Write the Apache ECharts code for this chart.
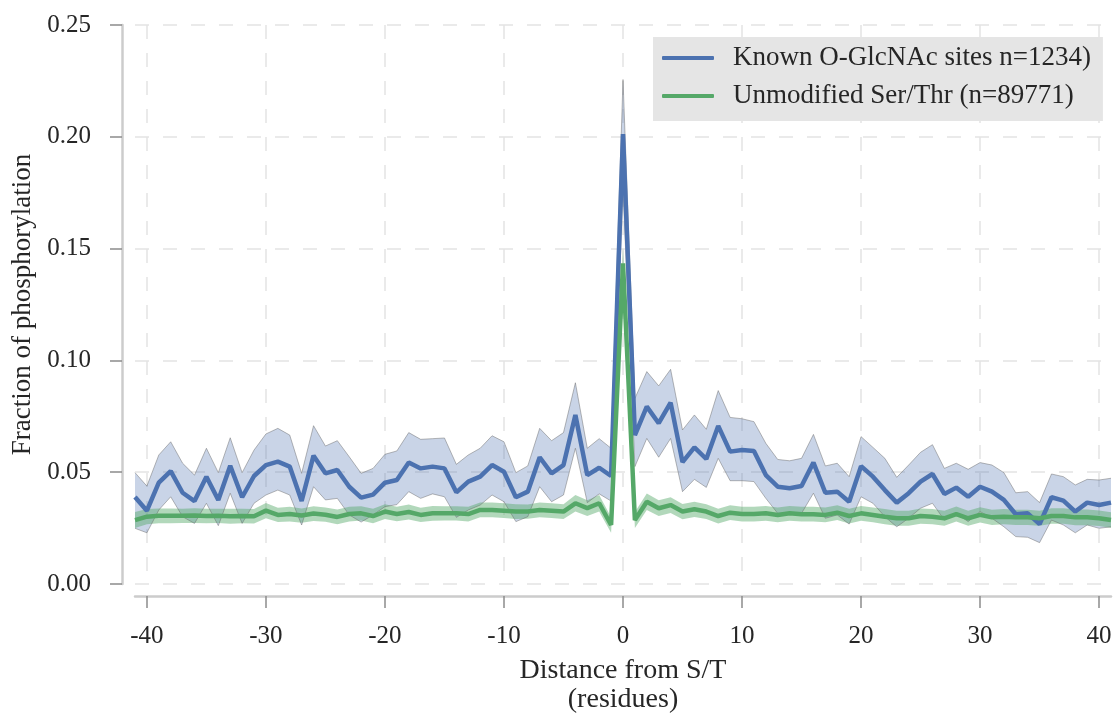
<!DOCTYPE html>
<html>
<head>
<meta charset="utf-8">
<script src="https://cdn.jsdelivr.net/npm/echarts@6/dist/echarts.min.js"></script>
<style>
html,body{margin:0;padding:0;background:#fff;}
#chart{width:1116px;height:713px;}
</style>
</head>
<body>
<div id="chart"></div>
<script>
// Distance from S/T (residues)
const positions = [-41,-40,-39,-38,-37,-36,-35,-34,-33,-32,-31,-30,-29,-28,-27,-26,-25,-24,-23,-22,-21,-20,-19,-18,-17,-16,-15,-14,-13,-12,-11,-10,-9,-8,-7,-6,-5,-4,-3,-2,-1,0,1,2,3,4,5,6,7,8,9,10,11,12,13,14,15,16,17,18,19,20,21,22,23,24,25,26,27,28,29,30,31,32,33,34,35,36,37,38,39,40,41];
const xTickLabels = [-40,-30,-20,-10,0,10,20,30,40];
const yTickLabels = ['0.00','0.05','0.10','0.15','0.20','0.25'];

const seriesNames = ['Known O-GlcNAc sites n=1234)', 'Unmodified Ser/Thr (n=89771)'];

// Known O-GlcNAc sites: mean and confidence band
const glcnacMean = [0.0389,0.0328,0.0453,0.0505,0.0408,0.0371,0.0480,0.0376,0.0529,0.0388,0.0483,0.0532,0.0547,0.0525,0.0371,0.0574,0.0495,0.0510,0.0435,0.0386,0.0400,0.0453,0.0465,0.0543,0.0517,0.0525,0.0517,0.0410,0.0458,0.0480,0.0532,0.0502,0.0388,0.0413,0.0567,0.0495,0.0532,0.0756,0.0487,0.0520,0.0483,0.2012,0.0666,0.0793,0.0719,0.0811,0.0545,0.0611,0.0559,0.0707,0.0592,0.0599,0.0595,0.0487,0.0435,0.0428,0.0438,0.0543,0.0408,0.0413,0.0368,0.0527,0.0480,0.0420,0.0364,0.0406,0.0458,0.0492,0.0403,0.0431,0.0390,0.0435,0.0413,0.0376,0.0312,0.0316,0.0268,0.0388,0.0373,0.0324,0.0364,0.0353,0.0364];
const glcnacUpper = [0.0498,0.0438,0.0577,0.0636,0.0540,0.0487,0.0607,0.0498,0.0654,0.0498,0.0599,0.0671,0.0696,0.0666,0.0495,0.0708,0.0617,0.0641,0.0569,0.0495,0.0517,0.0580,0.0595,0.0677,0.0647,0.0650,0.0653,0.0535,0.0577,0.0607,0.0663,0.0636,0.0498,0.0528,0.0696,0.0641,0.0677,0.0900,0.0607,0.0650,0.0607,0.2256,0.0830,0.0950,0.0886,0.0960,0.0689,0.0756,0.0692,0.0865,0.0745,0.0739,0.0726,0.0629,0.0557,0.0551,0.0562,0.0669,0.0528,0.0540,0.0480,0.0659,0.0611,0.0562,0.0477,0.0532,0.0589,0.0623,0.0517,0.0540,0.0513,0.0543,0.0532,0.0498,0.0408,0.0413,0.0364,0.0492,0.0480,0.0443,0.0468,0.0465,0.0473];
const glcnacLower = [0.0249,0.0229,0.0331,0.0390,0.0301,0.0271,0.0361,0.0261,0.0406,0.0271,0.0361,0.0398,0.0420,0.0398,0.0264,0.0435,0.0376,0.0383,0.0309,0.0277,0.0309,0.0346,0.0355,0.0413,0.0383,0.0403,0.0390,0.0298,0.0331,0.0353,0.0398,0.0368,0.0279,0.0301,0.0435,0.0368,0.0398,0.0607,0.0364,0.0403,0.0371,0.1765,0.0525,0.0651,0.0567,0.0651,0.0413,0.0468,0.0432,0.0562,0.0462,0.0462,0.0458,0.0383,0.0316,0.0316,0.0316,0.0406,0.0294,0.0309,0.0268,0.0390,0.0361,0.0301,0.0256,0.0294,0.0339,0.0361,0.0286,0.0316,0.0279,0.0324,0.0294,0.0256,0.0212,0.0209,0.0185,0.0286,0.0264,0.0229,0.0264,0.0249,0.0256];

// Unmodified Ser/Thr: mean and confidence band
const unmodMean = [0.0286,0.0301,0.0305,0.0305,0.0305,0.0306,0.0304,0.0305,0.0303,0.0304,0.0303,0.0328,0.0309,0.0313,0.0306,0.0315,0.0310,0.0300,0.0313,0.0316,0.0304,0.0324,0.0313,0.0322,0.0309,0.0316,0.0316,0.0316,0.0313,0.0331,0.0331,0.0328,0.0324,0.0324,0.0331,0.0328,0.0324,0.0361,0.0339,0.0361,0.0264,0.1434,0.0286,0.0368,0.0339,0.0353,0.0324,0.0334,0.0324,0.0304,0.0319,0.0313,0.0313,0.0316,0.0309,0.0316,0.0312,0.0312,0.0309,0.0319,0.0304,0.0316,0.0309,0.0301,0.0294,0.0294,0.0304,0.0301,0.0294,0.0313,0.0294,0.0309,0.0298,0.0301,0.0298,0.0298,0.0294,0.0304,0.0304,0.0298,0.0298,0.0294,0.0286];
const unmodUpper = [0.0322,0.0335,0.0338,0.0338,0.0337,0.0339,0.0336,0.0337,0.0336,0.0336,0.0335,0.0362,0.0341,0.0346,0.0338,0.0348,0.0342,0.0333,0.0346,0.0348,0.0336,0.0357,0.0345,0.0355,0.0341,0.0349,0.0348,0.0348,0.0346,0.0364,0.0364,0.0361,0.0357,0.0356,0.0364,0.0361,0.0357,0.0398,0.0374,0.0398,0.0299,0.1505,0.0322,0.0405,0.0374,0.0388,0.0358,0.0368,0.0357,0.0337,0.0352,0.0346,0.0346,0.0349,0.0342,0.0349,0.0345,0.0345,0.0342,0.0352,0.0337,0.0349,0.0342,0.0335,0.0328,0.0328,0.0338,0.0335,0.0328,0.0347,0.0328,0.0343,0.0332,0.0335,0.0332,0.0332,0.0328,0.0339,0.0339,0.0333,0.0333,0.0329,0.0321];
const unmodLower = [0.0251,0.0267,0.0272,0.0272,0.0273,0.0273,0.0272,0.0273,0.0270,0.0272,0.0271,0.0294,0.0277,0.0280,0.0274,0.0282,0.0278,0.0267,0.0280,0.0284,0.0272,0.0291,0.0281,0.0289,0.0277,0.0283,0.0284,0.0284,0.0280,0.0298,0.0298,0.0295,0.0291,0.0292,0.0298,0.0295,0.0291,0.0324,0.0304,0.0324,0.0229,0.1363,0.0250,0.0331,0.0304,0.0318,0.0290,0.0300,0.0291,0.0271,0.0286,0.0280,0.0280,0.0283,0.0276,0.0283,0.0279,0.0279,0.0276,0.0286,0.0271,0.0283,0.0276,0.0267,0.0260,0.0260,0.0270,0.0267,0.0260,0.0279,0.0260,0.0275,0.0264,0.0267,0.0264,0.0264,0.0260,0.0269,0.0269,0.0263,0.0263,0.0259,0.0251];

const FONT = 'Liberation Serif';
const TEXT = '#262626';
const BLUE = '#4c72b0';
const GREEN = '#55a868';

const width = (hi, lo) => hi.map((v, i) => +(v - lo[i]).toFixed(5));
const isTick = (idx, val) => xTickLabels.includes(Number(val));

const gridLine = {show: true, lineStyle: {color: '#e3e3e3', width: 1.5, type: [14, 14]}};

const chart = echarts.init(document.getElementById('chart'), null, {renderer: 'canvas'});
chart.setOption({
  animation: false,
  backgroundColor: '#ffffff',
  grid: {left: 135, right: 5, top: 25, bottom: 129, containLabel: false, outerBoundsMode: 'none'},
  legend: {
    left: 653, top: 37, orient: 'vertical',
    backgroundColor: '#e5e5e5', borderRadius: 0,
    padding: [6, 12, 10, 9],
    itemWidth: 52, itemHeight: 4, itemGap: 8,
    icon: 'roundRect',
    formatter: '{sp|}{name}',
    textStyle: {fontFamily: FONT, fontSize: 27, color: TEXT, lineHeight: 30,
      rich: {sp: {width: 14}}},
    data: seriesNames
  },
  xAxis: {
    type: 'category',
    data: positions.map(String),
    boundaryGap: false,
    offset: 12,
    name: 'Distance from S/T\n(residues)',
    nameLocation: 'middle',
    nameGap: 60,
    nameTextStyle: {fontFamily: FONT, fontSize: 28, color: TEXT, lineHeight: 29},
    axisLine: {show: true, onZero: false, lineStyle: {color: '#cccccc', width: 2.5}},
    axisTick: {show: true, length: 12, interval: isTick, lineStyle: {color: '#8c8c8c', width: 1.5}},
    axisLabel: {interval: isTick, margin: 28, fontFamily: FONT, fontSize: 25, color: TEXT},
    splitLine: Object.assign({interval: isTick}, gridLine)
  },
  yAxis: {
    type: 'value',
    min: 0, max: 0.25, interval: 0.05,
    offset: 13,
    name: 'Fraction of phosphorylation',
    nameLocation: 'middle',
    nameRotate: 90,
    nameGap: 77,
    nameTextStyle: {fontFamily: FONT, fontSize: 27, color: TEXT},
    axisLine: {show: true, onZero: false, lineStyle: {color: '#cccccc', width: 2.5}},
    axisTick: {show: true, length: 12, lineStyle: {color: '#8c8c8c', width: 1.5}},
    axisLabel: {margin: 31, fontFamily: FONT, fontSize: 25, color: TEXT,
      formatter: v => yTickLabels[Math.round(v / 0.05)]},
    splitLine: gridLine
  },
  series: [
    {name: 'glcnacLow', type: 'line', stack: 'glcnacBand', data: glcnacLower, symbol: 'none', silent: true,
     lineStyle: {color: 'rgba(100,100,100,0.45)', width: 1}},
    {name: 'glcnacBand', type: 'line', stack: 'glcnacBand', data: width(glcnacUpper, glcnacLower), symbol: 'none', silent: true,
     lineStyle: {color: 'rgba(100,100,100,0.45)', width: 1},
     areaStyle: {color: 'rgba(76,114,176,0.3)', opacity: 1}},
    {name: seriesNames[0], type: 'line', data: glcnacMean, symbol: 'none', silent: true, color: BLUE,
     lineStyle: {color: BLUE, width: 4.5}},
    {name: 'unmodLow', type: 'line', stack: 'unmodBand', data: unmodLower, symbol: 'none', silent: true,
     lineStyle: {width: 0, opacity: 0}},
    {name: 'unmodBand', type: 'line', stack: 'unmodBand', data: width(unmodUpper, unmodLower), symbol: 'none', silent: true,
     lineStyle: {width: 0, opacity: 0},
     areaStyle: {color: 'rgba(85,168,104,0.45)', opacity: 1}},
    {name: seriesNames[1], type: 'line', data: unmodMean, symbol: 'none', silent: true, color: GREEN,
     lineStyle: {color: GREEN, width: 4.5}}
  ]
});
</script>
</body>
</html>
